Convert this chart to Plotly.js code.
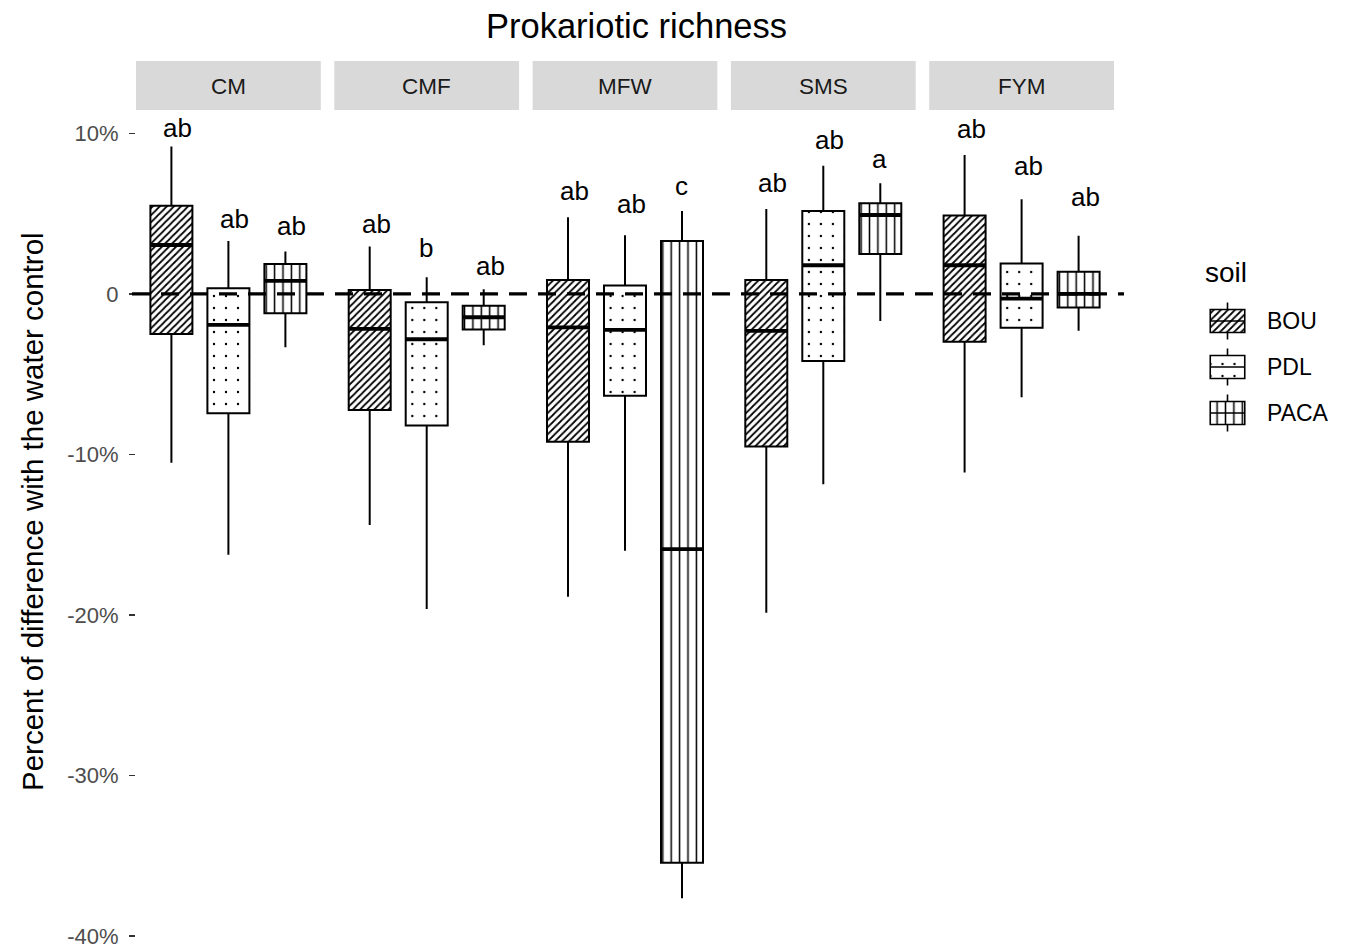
<!DOCTYPE html>
<html><head><meta charset="utf-8">
<script src="https://cdn.plot.ly/plotly-3.0.1.min.js"></script>
<style>html,body{margin:0;padding:0;background:#fff}</style>
</head><body><div id="chart" style="width:1348px;height:949px"></div>
<script>
// ---------- data (percent difference with the water control) ----------
const facets = ['CM', 'CMF', 'MFW', 'SMS', 'FYM'];
const soils = ['BOU', 'PDL', 'PACA'];
const yTickVals = [-40, -30, -20, -10, 0, 10];
const yTickText = ['-40%', '-30%', '-20%', '-10%', '0', '10%'];

const bouUpper  = [9.18, 2.95, 4.78, 5.30, 8.66];
const bouQ3     = [5.50, 0.25, 0.87, 0.87, 4.88];
const bouMedian = [3.05, -2.18, -2.08, -2.30, 1.79];
const bouQ1     = [-2.49, -7.23, -9.20, -9.51, -2.97];
const bouLower  = [-10.51, -14.39, -18.86, -19.86, -11.13];
const bouLetters = ['ab', 'ab', 'ab', 'ab', 'ab'];
const bouLetterY = [10.3, 4.3, 6.37, 6.85, 10.2];

const pdlUpper  = [3.30, 1.04, 3.66, 7.98, 5.90];
const pdlQ3     = [0.35, -0.52, 0.52, 5.17, 1.89];
const pdlMedian = [-1.93, -2.82, -2.24, 1.79, -0.29];
const pdlQ1     = [-7.43, -8.20, -6.34, -4.17, -2.10];
const pdlLower  = [-16.24, -19.63, -15.99, -11.86, -6.44];
const pdlLetters = ['ab', 'b', 'ab', 'ab', 'ab'];
const pdlLetterY = [4.6, 2.78, 5.55, 9.55, 7.93];

const pacaUpper  = [2.64, 0.29, 5.17, 6.90, 3.63];
const pacaQ3     = [1.87, -0.73, 3.30, 5.65, 1.39];
const pacaMedian = [0.81, -1.45, -15.89, 4.92, 0.00];
const pacaQ1     = [-1.20, -2.22, -35.43, 2.49, -0.85];
const pacaLower  = [-3.32, -3.20, -37.65, -1.68, -2.29];
const pacaLetters = ['ab', 'ab', 'c', 'a', 'ab'];
const pacaLetterY = [4.2, 1.7, 6.65, 8.35, 5.96];

// ---------- assembly ----------
const stats = {
  BOU:  {upper: bouUpper,  q3: bouQ3,  median: bouMedian,  q1: bouQ1,  lower: bouLower,  letters: bouLetters,  ly: bouLetterY},
  PDL:  {upper: pdlUpper,  q3: pdlQ3,  median: pdlMedian,  q1: pdlQ1,  lower: pdlLower,  letters: pdlLetters,  ly: pdlLetterY},
  PACA: {upper: pacaUpper, q3: pacaQ3, median: pacaMedian, q1: pacaQ1, lower: pacaLower, letters: pacaLetters, ly: pacaLetterY}
};
const patterns = {
  BOU:  {shape: '/', size: 5,   solidity: 0.35},
  PDL:  {shape: '.', size: 12,  solidity: 0.03},
  PACA: {shape: '|', size: 8.4, solidity: 0.18}
};

const FONT = 'Liberation Sans, Arial, Helvetica, sans-serif';
const W = 1348, H = 949, ML = 136, MR = 10, MT = 110, MB = 3;
const PW = W - ML - MR, PH = H - MT - MB;
const px2x = p => (p - ML) / PW;
const py2y = p => (H - MB - p) / PH;
const panelW = 184.8, gapW = 13.5, unitPx = 57;
const halfRange = panelW / 2 / unitPx;
const soilPos = [-1, 0, 1];
const boxW = 0.737;

const data = [];
const annotations = [];
const shapes = [];
const layout = {
  width: W, height: H,
  margin: {l: ML, r: MR, t: MT, b: MB, pad: 0},
  paper_bgcolor: '#fff', plot_bgcolor: 'rgba(0,0,0,0)',
  font: {family: FONT, color: '#000'},
  showlegend: false,
  barmode: 'overlay', boxmode: 'overlay',
  yaxis: {
    domain: [0, 1], range: [-40.62, 11.46], anchor: 'x',
    tickvals: yTickVals, ticktext: yTickText,
    ticks: 'outside', ticklen: 6, tickwidth: 1.2, tickcolor: '#333',
    tickfont: {size: 22, color: '#4d4d4d', family: FONT},
    ticklabelstandoff: 6,
    showgrid: false, zeroline: false, showline: false, fixedrange: true
  }
};

facets.forEach((f, i) => {
  const axSuffix = i === 0 ? '' : String(i + 1);
  const xref = 'x' + axSuffix;
  const left = ML + i * (panelW + gapW);
  const d0 = px2x(left), d1 = px2x(left + panelW);
  layout['xaxis' + axSuffix] = {
    domain: [d0, d1], range: [-halfRange, halfRange], anchor: 'y',
    visible: false, fixedrange: true
  };
  // strip
  shapes.push({type: 'rect', xref: 'paper', yref: 'paper', x0: d0, x1: d1,
    y0: py2y(110), y1: py2y(61), fillcolor: '#d9d9d9', line: {width: 0}, layer: 'below'});
  annotations.push({xref: 'paper', yref: 'paper', x: (d0 + d1) / 2, y: py2y(86),
    text: f, showarrow: false, xanchor: 'center', yanchor: 'middle',
    font: {size: 22.5, color: '#1a1a1a', family: FONT}});

  soils.forEach((s, k) => {
    const st = stats[s];
    const p = soilPos[k];
    // patterned body
    data.push({
      type: 'bar', xaxis: xref, yaxis: 'y',
      x: [p], base: [st.q1[i]], y: [st.q3[i] - st.q1[i]], width: [boxW],
      marker: {color: '#fff', line: {width: 0},
        pattern: Object.assign({fgcolor: '#000', bgcolor: '#fff', fillmode: 'replace'}, patterns[s])},
      hoverinfo: 'skip', showlegend: false
    });
    // outline + whiskers
    data.push({
      type: 'box', xaxis: xref, yaxis: 'y',
      x: [p], q1: [st.q1[i]], median: [st.median[i]], q3: [st.q3[i]],
      lowerfence: [st.lower[i]], upperfence: [st.upper[i]],
      width: boxW, whiskerwidth: 0, boxpoints: false,
      fillcolor: 'rgba(0,0,0,0)', line: {color: '#000', width: 2},
      hoverinfo: 'skip', showlegend: false
    });
    // thick median
    data.push({
      type: 'scatter', mode: 'lines', xaxis: xref, yaxis: 'y',
      x: [p - boxW / 2, p + boxW / 2], y: [st.median[i], st.median[i]],
      line: {color: '#000', width: 3.8}, hoverinfo: 'skip', showlegend: false
    });
    const txt = st.letters[i];
    annotations.push({xref: xref, yref: 'y', x: p, y: st.ly[i], text: txt,
      xshift: txt.length > 1 ? 6.5 : -1, yshift: 1,
      showarrow: false, xanchor: 'center', yanchor: 'middle',
      font: {size: 26, color: '#000', family: FONT}});
  });
});

// zero reference line
shapes.push({type: 'line', xref: 'paper', yref: 'y', x0: px2x(132), x1: px2x(1124), y0: 0, y1: 0,
  line: {color: '#000', width: 3.2, dash: '18px,11px'}, layer: 'above'});

// ---------- manual legend (soil) ----------
layout.xaxis6 = {domain: [px2x(1204.5), px2x(1250.5)], range: [0, 1], anchor: 'y2', visible: false, fixedrange: true};
layout.yaxis2 = {domain: [py2y(436), py2y(298)], range: [-0.5, 2.5], anchor: 'x6', visible: false, fixedrange: true};
soils.forEach((s, k) => {
  const yk = 2 - k;
  data.push({
    type: 'bar', xaxis: 'x6', yaxis: 'y2', x: [0.5], base: [yk - 0.25], y: [0.5], width: [0.75],
    marker: {color: '#fff', line: {width: 0},
      pattern: Object.assign({fgcolor: '#000', bgcolor: '#fff', fillmode: 'replace'}, patterns[s])},
    hoverinfo: 'skip', showlegend: false
  });
  data.push({
    type: 'box', xaxis: 'x6', yaxis: 'y2', x: [0.5],
    q1: [yk - 0.25], median: [yk], q3: [yk + 0.25], lowerfence: [yk - 0.4], upperfence: [yk + 0.4],
    width: 0.75, whiskerwidth: 0, boxpoints: false,
    fillcolor: 'rgba(0,0,0,0)', line: {color: '#000', width: 1.6},
    hoverinfo: 'skip', showlegend: false
  });
  annotations.push({xref: 'paper', yref: 'y2', x: px2x(1265), y: yk, text: s, showarrow: false,
    xanchor: 'left', yanchor: 'middle', font: {size: 23, color: '#000', family: FONT}});
});
annotations.push({xref: 'paper', yref: 'paper', x: px2x(1203), y: py2y(272), text: 'soil', showarrow: false,
  xanchor: 'left', yanchor: 'middle', font: {size: 28, color: '#000', family: FONT}});

// titles
annotations.push({xref: 'paper', yref: 'paper', x: px2x(636), y: py2y(26), text: 'Prokariotic richness',
  showarrow: false, xanchor: 'center', yanchor: 'middle', font: {size: 34.5, color: '#000', family: FONT}});
annotations.push({xref: 'paper', yref: 'paper', x: px2x(32), y: py2y(512), textangle: -90,
  text: 'Percent of difference with the water control', showarrow: false,
  xanchor: 'center', yanchor: 'middle', font: {size: 29.5, color: '#000', family: FONT}});

layout.annotations = annotations;
layout.shapes = shapes;

Plotly.newPlot('chart', data, layout, {displayModeBar: false, staticPlot: true});
</script>
</body></html>
